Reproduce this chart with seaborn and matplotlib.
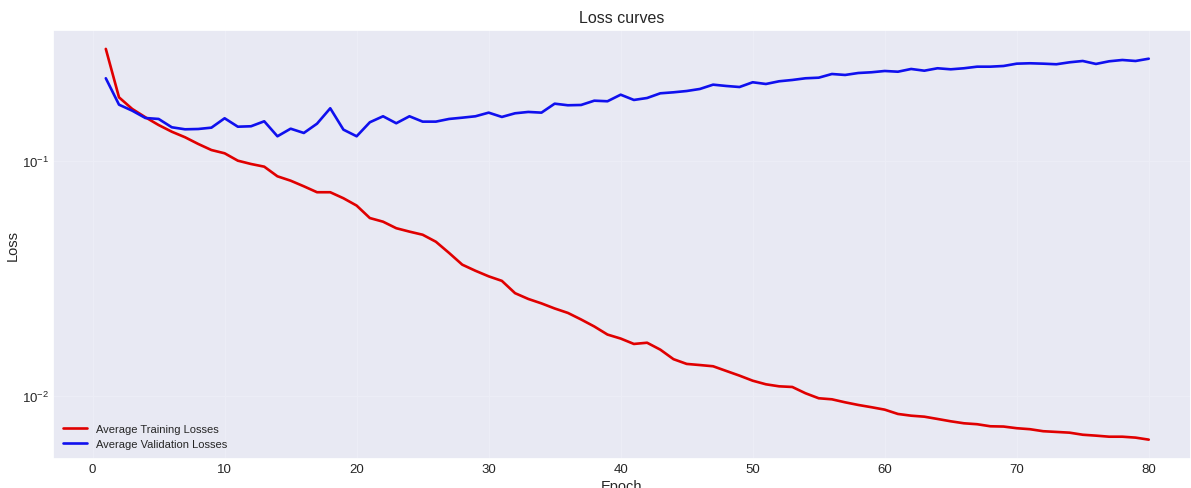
import numpy as np
import pandas as pd
import matplotlib
matplotlib.use("Agg")
import matplotlib.pyplot as plt
import seaborn as sns
from matplotlib.ticker import LogLocator, NullLocator

epochs = list(range(1, 81))

train_loss = [
    0.299, 0.186, 0.166, 0.153, 0.1418, 0.1328, 0.1258, 0.1178, 0.1110, 0.1075,
    0.1000, 0.0968, 0.0943, 0.0858, 0.0822, 0.0778, 0.0734, 0.0734, 0.0692, 0.0644,
    0.0570, 0.0550, 0.0516, 0.0499, 0.0484, 0.0452, 0.0405, 0.0361, 0.0340, 0.0322,
    0.0308, 0.0273, 0.0258, 0.0247, 0.0235, 0.0225, 0.0211, 0.0197, 0.0182, 0.0175,
    0.0166, 0.0168, 0.0157, 0.0143, 0.01365, 0.0135, 0.01334, 0.01274, 0.01217, 0.01158,
    0.01118, 0.01096, 0.01089, 0.01024, 0.00975, 0.00965, 0.00937, 0.00913, 0.00893, 0.00872,
    0.00836, 0.00822, 0.00814, 0.00796, 0.00778, 0.00763, 0.00756, 0.00741, 0.00739, 0.00727,
    0.00720, 0.00706, 0.00701, 0.00696, 0.00682, 0.00676, 0.00669, 0.00669, 0.00663, 0.00650,
]

val_loss = [
    0.2242, 0.1731, 0.1632, 0.1519, 0.1505, 0.1387, 0.1360, 0.1364, 0.1382, 0.1515,
    0.1395, 0.1401, 0.1471, 0.1270, 0.1368, 0.1312, 0.1437, 0.1671, 0.1355, 0.1270,
    0.1457, 0.1545, 0.1443, 0.1545, 0.1466, 0.1466, 0.1505, 0.1524, 0.1545, 0.1601,
    0.1535, 0.1591, 0.1612, 0.1601, 0.1748, 0.1721, 0.1726, 0.1800, 0.1790, 0.1909,
    0.1813, 0.1848, 0.1935, 0.1954, 0.1979, 0.2019, 0.2106, 0.2079, 0.2058, 0.2156,
    0.2120, 0.2177, 0.2205, 0.2242, 0.2255, 0.2338, 0.2316, 0.2361, 0.2378, 0.2408,
    0.2391, 0.2456, 0.2415, 0.2473, 0.2448, 0.2473, 0.2512, 0.2512, 0.2529, 0.2587,
    0.2597, 0.2587, 0.2572, 0.2622, 0.2656, 0.2580, 0.2648, 0.2682, 0.2656, 0.2716,
]

series_names = ["Average Training Losses", "Average Validation Losses"]
x_ticks = [0, 10, 20, 30, 40, 50, 60, 70, 80]

df = pd.DataFrame({
    "Epoch": epochs * 2,
    "Loss": train_loss + val_loss,
    "Series": [series_names[0]] * len(epochs) + [series_names[1]] * len(epochs),
})

sns.set_theme(style="darkgrid")
plt.rcParams["font.family"] = ["Liberation Sans", "DejaVu Sans"]
plt.rcParams["axes.facecolor"] = "#E8E9F3"
plt.rcParams["grid.color"] = "#ECEDF6"

fig = plt.figure(figsize=(11.91, 4.89), dpi=100)
ax = fig.add_axes([53 / 1191, 1 - 460 / 489, 1 - 53 / 1191, (460 - 31) / 489])

sns.lineplot(data=df, x="Epoch", y="Loss", hue="Series",
             palette={series_names[0]: "#E00000", series_names[1]: "#1010EE"},
             linewidth=1.9, ax=ax)

ax.set_yscale("log")
ax.set_ylim(0.005377, 0.3598)
ax.set_xlim(-3.0, 83.2)
ax.set_xticks(x_ticks)
ax.yaxis.set_major_locator(LogLocator(base=10))
ax.yaxis.set_minor_locator(NullLocator())
ax.tick_params(axis="both", which="both", length=0, labelsize=9.5, pad=3)
ax.grid(True, which="major", linewidth=0.8)

ax.set_title("Loss curves", fontsize=11.5, pad=6)
ax.set_xlabel("Epoch", fontsize=10.5, labelpad=3)
ax.set_ylabel("Loss", fontsize=10.5)
ax.yaxis.set_label_coords(-0.029, 0.5)

leg = ax.legend(loc="lower left", frameon=False, fontsize=8, handlelength=2.2,
                borderaxespad=0.5, labelspacing=0.45)
leg.set_title(None)

fig.savefig("out.png", dpi=100)
